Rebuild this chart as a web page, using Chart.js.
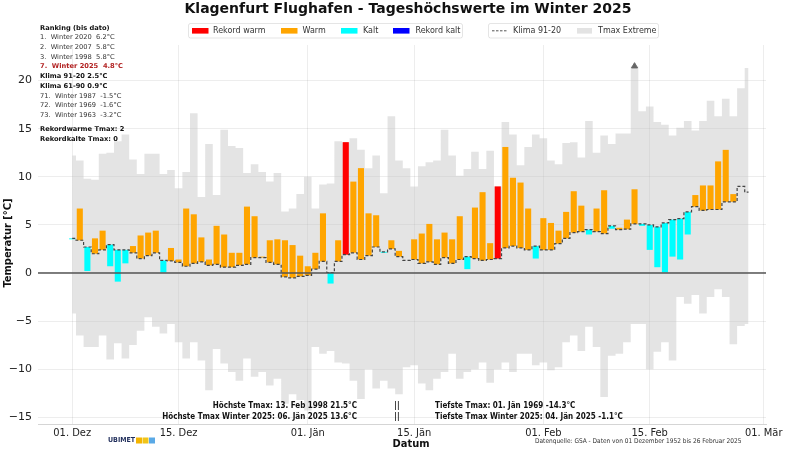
<!DOCTYPE html>
<html>
<head>
<meta charset="utf-8">
<script src="https://cdn.jsdelivr.net/npm/chart.js@4.4.1/dist/chart.umd.min.js"></script>
<style>
html, body { margin: 0; padding: 0; background: #fff; }
#wrap { width: 786px; height: 450px; }
</style>
</head>
<body>
<div id="wrap"><canvas id="chart" width="786" height="450"></canvas></div>
<script>
// x axis: day of winter, 0 = 01. Dez
var tickDays = [0, 14, 31, 45, 62, 76, 91];
var tickLabels = ['01. Dez', '15. Dez', '01. Jän', '15. Jän', '01. Feb', '15. Feb', '01. Mär'];
var yTicks = [-15, -10, -5, 0, 5, 10, 15, 20];

// Tmax Winter 2025 (01.12. - 26.02.)
var tmax2025 = [
  3.5, 6.7, 0.2, 3.6, 4.4, 0.7, -0.9, 1.0, 2.8, 3.9,
  4.2, 4.4, 0.0, 2.6, 1.4, 6.7, 6.1, 3.7, 1.4, 4.9,
  4.0, 2.1, 2.1, 6.9, 5.9, 1.7, 3.4, 3.5, 3.4, 2.9,
  1.8, 0.7, 2.1, 6.2, -1.1, 3.4, 13.6, 9.5, 10.9, 6.2,
  6.0, 2.1, 3.4, 2.3, 1.3, 3.5, 4.1, 5.1, 3.5, 4.2,
  3.5, 5.9, 0.4, 6.8, 8.4, 3.1, 9.0, 13.1, 9.9, 9.4,
  6.7, 1.5, 5.7, 5.2, 4.4, 6.35, 8.5, 7.0, 4.0, 6.7,
  8.6, 4.6, 4.7, 5.55, 8.7, 4.9, 2.4, 0.6, 0.0, 1.7,
  1.4, 4.0, 8.1, 9.1, 9.1, 11.6, 12.8, 8.2
];

// Klima 91-20 Tmax
var klima9120 = [
  3.6, 3.4, 2.7, 2.0, 2.4, 2.95, 2.4, 2.4, 2.1, 1.5,
  1.8, 2.1, 1.3, 1.25, 1.1, 0.7, 1.0, 1.15, 0.8, 0.9,
  0.6, 0.6, 0.8, 0.9, 1.6, 1.6, 1.1, 0.9, -0.4, -0.5,
  -0.35, -0.25, 0.4, 1.2, 0.05, 1.2, 1.9, 2.1, 1.4, 1.8,
  2.7, 2.2, 2.5, 1.7, 1.3, 1.4, 1.0, 1.15, 0.9, 1.6,
  1.0, 1.4, 1.7, 1.5, 1.3, 1.4, 1.5, 2.6, 2.8, 2.6,
  2.4, 2.8, 2.4, 2.4, 3.05, 3.6, 4.2, 4.3, 4.5, 4.3,
  4.1, 4.9, 4.5, 4.55, 5.1, 5.1, 5.0, 4.8, 5.2, 5.55,
  5.65, 6.35, 6.9, 6.5, 6.6, 6.6, 7.4, 7.4, 9.0, 8.4
];

// Tmax Extreme 1952-2025
var recordMax = [
  12.2, 11.7, 9.8, 9.7, 12.4, 12.5, 13.7, 14.4, 11.8, 10.3,
  12.4, 12.4, 10.3, 10.7, 8.8, 10.5, 16.6, 7.9, 13.4, 8.1,
  14.9, 13.2, 13.0, 10.4, 11.3, 10.5, 9.5, 10.4, 6.4, 6.7,
  8.2, 10.0, 6.7, 9.2, 9.3, 13.7, 13.6, 14.0, 12.8, 10.9,
  12.2, 8.3, 16.3, 11.7, 10.9, 9.0, 11.1, 11.5, 11.7, 14.9,
  12.2, 10.1, 10.8, 12.6, 10.8, 12.7, 9.0, 15.7, 14.4, 11.2,
  13.1, 14.4, 14.0, 11.7, 11.3, 13.5, 13.6, 12.0, 15.8, 12.5,
  14.3, 13.4, 14.5, 14.5, 21.5, 16.8, 17.3, 15.7, 15.4, 14.3,
  15.1, 15.8, 14.8, 15.8, 17.9, 16.3, 18.1, 16.3, 19.2, 21.3
];
var recordMin = [
  -4.2, -6.5, -7.7, -7.7, -6.5, -9.0, -7.3, -8.9, -7.5, -6.0,
  -4.6, -5.6, -6.3, -5.3, -7.2, -8.9, -7.2, -9.1, -12.2, -7.9,
  -9.4, -10.3, -11.2, -8.9, -10.8, -10.3, -11.7, -11.0, -13.6, -12.6,
  -13.2, -14.3, -7.7, -8.4, -8.1, -9.3, -9.4, -11.2, -13.1, -10.0,
  -12.0, -11.2, -12.0, -12.6, -9.8, -9.6, -11.5, -12.2, -11.0, -10.3,
  -8.4, -11.0, -10.3, -10.0, -9.3, -11.4, -10.0, -9.3, -10.3, -8.4,
  -8.4, -9.6, -9.3, -10.1, -9.8, -7.2, -6.5, -8.1, -5.6, -7.7,
  -12.9, -8.6, -8.4, -7.2, -5.3, -5.3, -10.0, -8.2, -7.2, -9.1,
  -2.5, -3.2, -2.3, -4.2, -2.5, -1.7, -2.5, -7.4, -5.5, -5.3
];
var recordMaxDay = 74;
var recordMaxValue = 21.5;

var rankingLines = [
  ['Ranking (bis dato)', 'bold', '#111'],
  ['1.  Winter 2020  6.2°C', '', '#333'],
  ['2.  Winter 2007  5.8°C', '', '#333'],
  ['3.  Winter 1998  5.8°C', '', '#333'],
  ['7.  Winter 2025  4.8°C', 'bold', '#b22222'],
  ['Klima 91-20 2.5°C', 'bold', '#111'],
  ['Klima 61-90 0.9°C', 'bold', '#111'],
  ['71.  Winter 1987  -1.5°C', '', '#333'],
  ['72.  Winter 1969  -1.6°C', '', '#333'],
  ['73.  Winter 1963  -3.2°C', '', '#333']
];
var recordCounts = ['Rekordwarme Tmax: 2', 'Rekordkalte Tmax: 0'];
var notesLeft = ['Höchste Tmax: 13. Feb 1998 21.5°C', 'Höchste Tmax Winter 2025: 06. Jän 2025 13.6°C'];
var notesRight = ['Tiefste Tmax: 01. Jän 1969 -14.3°C', 'Tiefste Tmax Winter 2025: 04. Jän 2025 -1.1°C'];

var COL_RWARM = '#ff0000', COL_WARM = '#ffa500', COL_KALT = '#00ffff', COL_RKALT = '#0000ff';
var COL_GREY = 'rgba(190,190,190,0.42)';
var SANS = "'DejaVu Sans'";
var COND = "'DejaVu Sans Condensed', 'DejaVu Sans'";

function xy(arr) {
  return arr.map(function (v, i) { return { x: i, y: v }; });
}

function barColor(v, i) {
  if (v >= recordMax[i]) return COL_RWARM;
  if (v <= recordMin[i]) return COL_RKALT;
  return v >= klima9120[i] ? COL_WARM : COL_KALT;
}

var extras = {
  id: 'extras',
  afterDatasetsDraw: function (chart) {
    var ctx = chart.ctx, a = chart.chartArea;
    var y0 = chart.scales.y.getPixelForValue(0);
    ctx.save();
    ctx.strokeStyle = '#555';
    ctx.lineWidth = 1.3;
    ctx.beginPath();
    ctx.moveTo(a.left, y0);
    ctx.lineTo(a.right, y0);
    ctx.stroke();
    ctx.restore();
  },
  afterDraw: function (chart) {
    var ctx = chart.ctx;
    ctx.save();
    // title
    ctx.fillStyle = '#111';
    ctx.textAlign = 'center';
    ctx.textBaseline = 'alphabetic';
    ctx.font = 'bold 14px ' + SANS;
    ctx.fillText('Klagenfurt Flughafen - Tageshöchswerte im Winter 2025', 408, 13);

    // legend boxes
    ctx.lineWidth = 1;
    ctx.strokeStyle = 'rgba(0,0,0,0.1)';
    ctx.fillStyle = 'rgba(255,255,255,0.85)';
    ctx.beginPath(); ctx.roundRect(188.5, 23.5, 274, 14.5, 2); ctx.fill(); ctx.stroke();
    ctx.beginPath(); ctx.roundRect(488.5, 23.5, 170, 14.5, 2); ctx.fill(); ctx.stroke();
    var ly = 30.8;
    var items = [[192, COL_RWARM, 213, 'Rekord warm'], [281, COL_WARM, 302.5, 'Warm'],
                 [341, COL_KALT, 363, 'Kalt'], [393, COL_RKALT, 415.5, 'Rekord kalt']];
    ctx.font = '8px ' + SANS;
    ctx.textAlign = 'left';
    ctx.textBaseline = 'middle';
    items.forEach(function (it) {
      ctx.fillStyle = it[1];
      ctx.fillRect(it[0], ly - 2.8, 16.5, 5.6);
      ctx.fillStyle = '#333';
      ctx.fillText(it[3], it[2], ly);
    });
    ctx.strokeStyle = '#555';
    ctx.setLineDash([2.5, 1.5]);
    ctx.beginPath(); ctx.moveTo(492, ly); ctx.lineTo(508, ly); ctx.stroke();
    ctx.setLineDash([]);
    ctx.fillStyle = '#333';
    ctx.fillText('Klima 91-20', 513, ly);
    ctx.fillStyle = '#e3e3e3';
    ctx.fillRect(577, ly - 2.8, 15, 5.6);
    ctx.fillStyle = '#333';
    ctx.fillText('Tmax Extreme', 598, ly);

    // ranking block
    var ry = [28, 37.7, 47.3, 57, 66.7, 76.3, 86, 96, 105.7, 115.3];
    rankingLines.forEach(function (l, i) {
      ctx.font = (l[1] ? 'bold ' : '') + '6.7px ' + SANS;
      ctx.fillStyle = l[2];
      ctx.fillText(l[0], 40, ry[i]);
    });
    ctx.font = 'bold 6.7px ' + SANS;
    ctx.fillStyle = '#111';
    ctx.fillText(recordCounts[0], 40, 129.7);
    ctx.fillText(recordCounts[1], 40, 139.3);

    // notes at the bottom
    ctx.font = 'bold 8px ' + COND;
    ctx.textAlign = 'right';
    ctx.fillText(notesLeft[0], 357, 406);
    ctx.fillText(notesLeft[1], 357, 416.5);
    ctx.textAlign = 'center';
    ctx.fillText('||', 397, 406);
    ctx.fillText('||', 397, 416.5);
    ctx.textAlign = 'left';
    ctx.fillText(notesRight[0], 435, 406);
    ctx.fillText(notesRight[1], 435, 416.5);

    // axis titles
    ctx.textAlign = 'center';
    ctx.font = 'bold 11px ' + COND;
    ctx.fillText('Datum', 411, 444);
    ctx.save();
    ctx.translate(8, 243);
    ctx.rotate(-Math.PI / 2);
    ctx.fillText('Temperatur [°C]', 0, 0);
    ctx.restore();

    // source + logo
    ctx.textAlign = 'left';
    ctx.font = '6.5px ' + COND;
    ctx.fillStyle = '#333';
    ctx.fillText('Datenquelle: GSA - Daten von 01 Dezember 1952 bis 26 Februar 2025', 535, 441);
    ctx.font = 'bold 7px ' + COND;
    ctx.fillStyle = '#1f2d5a';
    ctx.fillText('UBIMET', 108, 440.5);
    var logo = ['#f4b400', '#f0c419', '#5aa9e6'];
    logo.forEach(function (c, i) {
      ctx.fillStyle = c;
      ctx.fillRect(136 + i * 6.5, 437.5, 6, 6);
    });
    ctx.restore();
  }
};

Chart.defaults.font.family = SANS;
Chart.defaults.color = '#222';

new Chart(document.getElementById('chart'), {
  type: 'bar',
  data: {
    datasets: [
      {
        type: 'line', label: 'Tmax min', data: xy(recordMin),
        stepped: 'middle', borderWidth: 0, pointRadius: 0, fill: false, order: 10
      },
      {
        type: 'line', label: 'Tmax Extreme', data: xy(recordMax),
        stepped: 'middle', borderWidth: 0, pointRadius: 0,
        fill: '-1', backgroundColor: COL_GREY, order: 10
      },
      {
        type: 'bar', label: 'Winter 2025',
        data: tmax2025.map(function (v, i) { return { x: i, y: [klima9120[i], v] }; }),
        backgroundColor: tmax2025.map(barColor),
        borderWidth: 0, grouped: false,
        barPercentage: 0.8, categoryPercentage: 1, order: 5
      },
      {
        type: 'line', label: 'Klima 91-20', data: xy(klima9120),
        stepped: 'middle', borderColor: '#444', borderWidth: 1.2,
        borderDash: [3, 2], pointRadius: 0, fill: false, order: 2
      },
      {
        type: 'line', label: 'Rekord', data: [{ x: recordMaxDay, y: recordMaxValue }],
        showLine: false, pointStyle: 'triangle', pointRadius: 3.5,
        backgroundColor: '#666', borderColor: '#666', order: 1
      }
    ]
  },
  options: {
    responsive: false,
    animation: false,
    devicePixelRatio: 1,
    layout: { padding: { left: 0, right: 20, top: 45, bottom: 0 } },
    plugins: { legend: { display: false }, tooltip: { enabled: false } },
    scales: {
      x: {
        type: 'linear', min: -4.5, max: 91.3, offset: false,
        afterBuildTicks: function (s) { s.ticks = tickDays.map(function (v) { return { value: v }; }); },
        afterFit: function (s) { s.height = 26; },
        ticks: {
          padding: 3, maxRotation: 0, autoSkip: false,
          font: { size: 11, family: COND }, color: '#222',
          callback: function (v) { return tickLabels[tickDays.indexOf(v)]; }
        },
        grid: { color: 'rgba(0,0,0,0.07)', drawTicks: false, offset: false },
        border: { color: '#d5d5d5' }
      },
      y: {
        min: -15.7, max: 23.7,
        afterBuildTicks: function (s) { s.ticks = yTicks.map(function (v) { return { value: v }; }); },
        afterFit: function (s) { s.width = 38; },
        ticks: {
          padding: 6, font: { size: 11 }, color: '#222',
          callback: function (v) { return String(v).replace('-', '\u2212'); }
        },
        grid: { color: 'rgba(0,0,0,0.07)', drawTicks: false },
        border: { display: false }
      }
    }
  },
  plugins: [extras]
});
</script>
</body>
</html>
